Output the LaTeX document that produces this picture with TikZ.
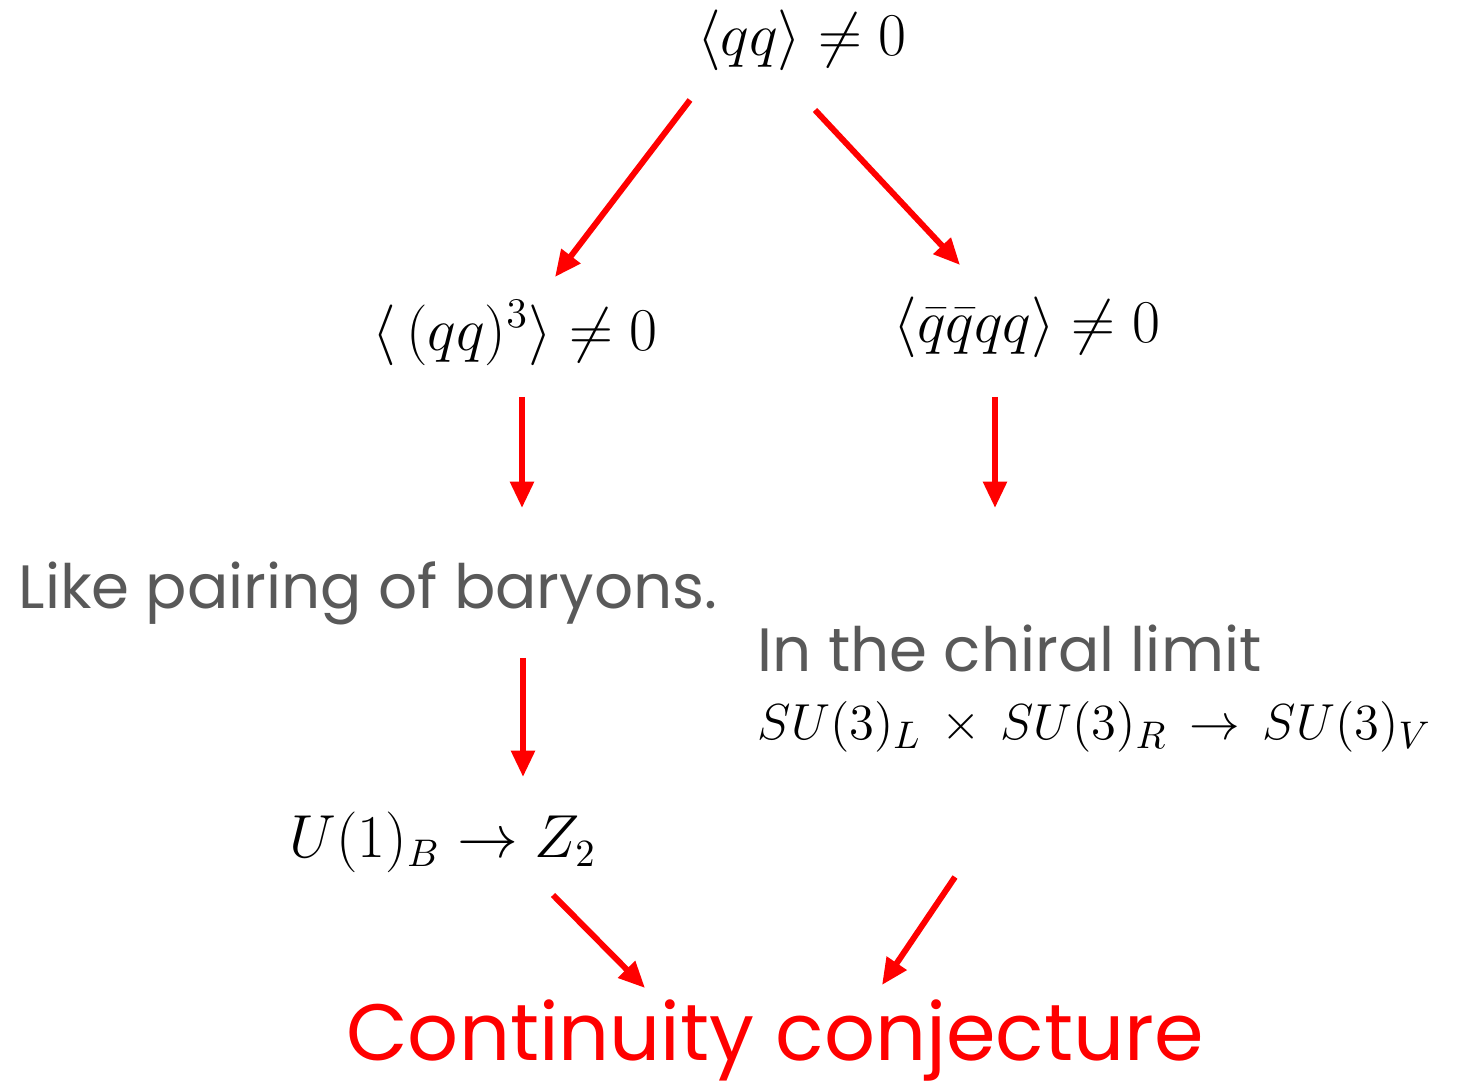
\documentclass[tikz,border=0pt]{standalone}
\usepackage{amsmath}
\usepackage{fontspec}
\setmainfont{Poppins}
\usepackage{tikz}
\usetikzlibrary{arrows.meta,positioning}
\definecolor{cjred}{HTML}{FF0000}
\definecolor{cjgray}{HTML}{595959}
\tikzset{
  redarr/.style={draw=cjred, line width=1.7pt, -{Triangle[length=7.5pt,width=6.5pt]}},
  mathlbl/.style={font=\fontsize{17.5}{20}\selectfont, text=black, inner sep=0pt},
  graylbl/.style={font=\fontsize{17.4}{21}\selectfont, text=cjgray, inner sep=0pt},
  titlelbl/.style={font=\fontsize{22.7}{27}\selectfont, text=cjred, inner sep=0pt}
}
\begin{document}
\begin{tikzpicture}[x=0.01cm, y=-0.01cm]
  \useasboundingbox (0,0) rectangle (1458,1089);

  % condensates
  \node[mathlbl] (qq)   at (802,40)  {$\langle qq\rangle \neq 0$};
  \node[mathlbl] (qqq)  at (515,333) {$\langle\, (qq)^3\rangle \neq 0$};
  \node[mathlbl] (qbqb) at (1027,327){$\langle \bar{q}\bar{q}qq\rangle \neq 0$};

  % consequences
  \node[graylbl,anchor=west] (bary)  at (18,593)  {Like pairing of baryons.};
  \node[graylbl,anchor=west] (chir)  at (757,648) {In the chiral limit};
  \node[mathlbl,anchor=west,font=\fontsize{15.6}{18}\selectfont] (symsu) at (757,727)
    {$SU(3)_L\,\times\,SU(3)_R\,\rightarrow\,SU(3)_V$};
  \node[mathlbl,font=\fontsize{16.2}{19}\selectfont] (symu) at (443,842) {$U(1)_B\rightarrow Z_2$};

  \node[titlelbl] (cont) at (775,1040) {Continuity conjecture};

  % arrow ends
  \coordinate (a1s) at (690,100);  \coordinate (a1e) at (555,277);
  \coordinate (a2s) at (815,110);  \coordinate (a2e) at (960,265);
  \coordinate (a3s) at (522,397);  \coordinate (a3e) at (522,508);
  \coordinate (a4s) at (995,397);  \coordinate (a4e) at (995,508);
  \coordinate (a5s) at (523,658);  \coordinate (a5e) at (523,777);
  \coordinate (a6s) at (553,895);  \coordinate (a6e) at (645,988);
  \coordinate (a7s) at (955,877);  \coordinate (a7e) at (882,985);

  \draw[redarr] (a1s) -- (a1e);
  \draw[redarr] (a2s) -- (a2e);
  \draw[redarr] (a3s) -- (a3e);
  \draw[redarr] (a4s) -- (a4e);
  \draw[redarr] (a5s) -- (a5e);
  \draw[redarr] (a6s) -- (a6e);
  \draw[redarr] (a7s) -- (a7e);
\end{tikzpicture}
\end{document}
